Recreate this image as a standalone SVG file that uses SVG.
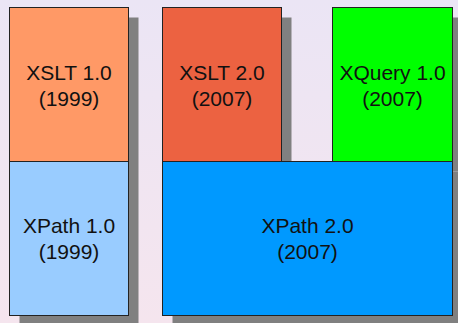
<svg xmlns="http://www.w3.org/2000/svg" width="458" height="323" viewBox="0 0 458 323">
<defs>
<linearGradient id="bg" x1="0" y1="0" x2="0" y2="1">
<stop offset="0" stop-color="#ebe5f5"/>
<stop offset="1" stop-color="#f5e5ee"/>
</linearGradient>
</defs>
<style>
.shadow{fill:#808080;stroke:none}
.box{stroke:#222;stroke-width:1}
.label{font-family:"Liberation Sans",Arial,sans-serif;font-size:21px;fill:#111;text-anchor:middle}
</style>
<rect x="0" y="0" width="458" height="323" fill="url(#bg)"/>
<g id="shadows">
<rect class="shadow" x="19.5" y="17.5" width="119" height="308"/>
<rect class="shadow" x="172.5" y="17.5" width="119" height="154"/>
<rect class="shadow" x="342.5" y="17.5" width="120" height="154"/>
<rect class="shadow" x="172.5" y="171.5" width="290" height="154"/>
</g>
<g id="xslt1">
<rect class="box" x="9.5" y="7.5" width="119" height="154" fill="#ff9966"/>
<text class="label" x="69" y="80">XSLT 1.0</text>
<text class="label" x="69" y="105.5">(1999)</text>
</g>
<g id="xpath1">
<rect class="box" x="9.5" y="161.5" width="119" height="154" fill="#99ccff"/>
<text class="label" x="69" y="233">XPath 1.0</text>
<text class="label" x="69" y="258.5">(1999)</text>
</g>
<g id="xslt2">
<rect class="box" x="162.5" y="7.5" width="119" height="154" fill="#ec6241"/>
<text class="label" x="222" y="80">XSLT 2.0</text>
<text class="label" x="222" y="105.5">(2007)</text>
</g>
<g id="xquery1">
<rect class="box" x="332.5" y="7.5" width="120" height="154" fill="#00ff00"/>
<text class="label" x="392.5" y="80">XQuery 1.0</text>
<text class="label" x="392.5" y="105.5">(2007)</text>
</g>
<g id="xpath2">
<rect class="box" x="162.5" y="161.5" width="290" height="154" fill="#0099ff"/>
<text class="label" x="307.5" y="233">XPath 2.0</text>
<text class="label" x="307.5" y="258.5">(2007)</text>
</g>
<g id="connectors"/>
</svg>
